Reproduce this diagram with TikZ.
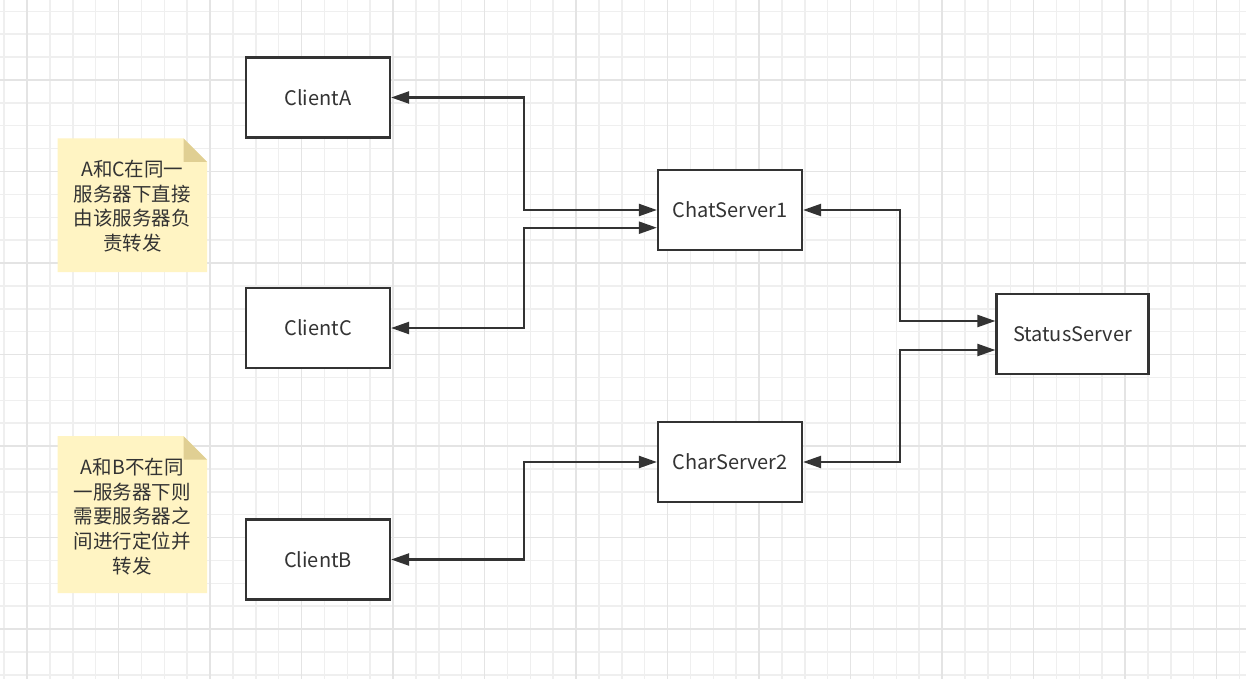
\documentclass[tikz,border=0pt]{standalone}
\usepackage{fontspec}
\setmainfont{Noto Sans CJK SC}
\usetikzlibrary{arrows.meta}
\definecolor{ink}{HTML}{333333}
\definecolor{gridminor}{HTML}{EFEFEF}
\definecolor{gridmajor}{HTML}{E4E4E4}
\definecolor{notefill}{HTML}{FFF4C3}
\definecolor{notefold}{HTML}{E0CF93}
\tikzset{
  box/.style={draw=ink, line width=2.2pt, fill=white, minimum width=144pt, minimum height=80pt, inner sep=0pt, text=ink, font=\fontsize{20pt}{24pt}\selectfont},
  conn/.style={draw=ink, line width=2.2pt, {Triangle[length=18pt,width=12pt]}-{Triangle[length=18pt,width=12pt]}},
  notetext/.style={text=ink, align=center, inner sep=0pt, font=\fontsize{19.5pt}{24.7pt}\selectfont},
  gminor/.style={draw=gridminor, line width=1.5pt},
  gmajor/.style={draw=gridmajor, line width=1.5pt}
}
\begin{document}
\begin{tikzpicture}[x=1pt, y=-1pt]
\useasboundingbox (0,0) rectangle (1246,679);
\fill[white] (0,0) rectangle (1246,679);
% grid
\foreach \i in {0,...,55} {
  \draw[gminor] ({4.125+\i*22.875},0) -- ({4.125+\i*22.875},679);
}
\foreach \j in {0,...,30} {
  \draw[gminor] (0,{-11.5+\j*22.875}) -- (1246,{-11.5+\j*22.875});
}
\foreach \i in {0,...,13} {
  \draw[gmajor] ({27+\i*91.5},0) -- ({27+\i*91.5},679);
}
\foreach \j in {0,...,7} {
  \draw[gmajor] (0,{-11.5+\j*91.5}) -- (1246,{-11.5+\j*91.5});
}
% notes
\fill[notefill] (57.5,138.5) -- (183.5,138.5) -- (207,162) -- (207,272) -- (57.5,272) -- cycle;
\fill[notefold] (183.5,138.5) -- (183.5,162) -- (207,162) -- cycle;
\node[notetext] (note1) at (132.3,206) {A和C在同一\\服务器下直接\\由该服务器负\\责转发};
\fill[notefill] (57.5,436) -- (183.5,436) -- (207,459.5) -- (207,593) -- (57.5,593) -- cycle;
\fill[notefold] (183.5,436) -- (183.5,459.5) -- (207,459.5) -- cycle;
\node[notetext] (note2) at (132.3,516.5) {A和B不在同\\一服务器下则\\需要服务器之\\间进行定位并\\转发};
% boxes
\node[box] (clientA) at (318,97.5) {ClientA};
\node[box] (clientC) at (318,328) {ClientC};
\node[box] (clientB) at (318,559.5) {ClientB};
\node[box] (chat1) at (730,210) {ChatServer1};
\node[box] (chat2) at (730,462) {CharServer2};
\node[box, minimum width=152pt] (status) at (1072.5,334.2) {StatusServer};
% connectors
\draw[conn] (clientA.east) -- ++(133,0) |- (chat1.west);
\draw[conn] (clientC.east) -- ++(133,0) |- ([yshift=-17.7pt]chat1.west);
\draw[conn] (clientB.east) -- ++(133,0) |- (chat2.west);
\draw[conn] (chat1.east) -- ++(97,0) |- ([yshift=13.2pt]status.west);
\draw[conn] (chat2.east) -- ++(97,0) |- ([yshift=-15.8pt]status.west);
\end{tikzpicture}
\end{document}
